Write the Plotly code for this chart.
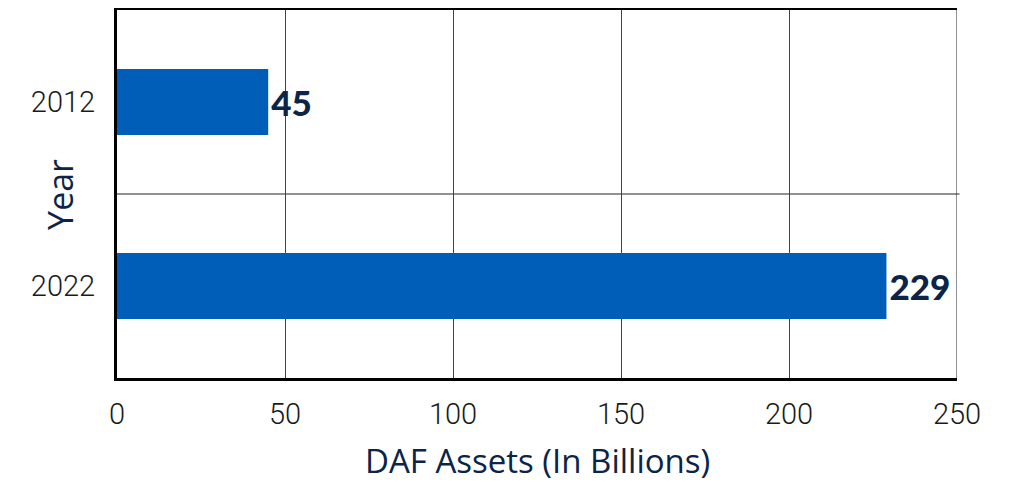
import plotly.graph_objects as go

# data
years = ['2012', '2022']
assets = [45, 229]
x_ticks = [0, 50, 100, 150, 200, 250]

BAR_BLUE = '#005EB8'
NAVY = '#0B2447'

fig = go.Figure()

fig.add_trace(go.Bar(y=years, x=assets, orientation='h',
                     marker=dict(color=BAR_BLUE, line=dict(width=0)),
                     width=0.36,
                     text=[str(v) for v in assets],
                     textposition='outside',
                     cliponaxis=False,
                     textfont=dict(family='Lato', size=35, color=NAVY, weight=900),
                     showlegend=False))

# thin line at the right edge and the line between the two years
fig.add_shape(type='line', xref='x', yref='paper', x0=250, x1=250, y0=0, y1=1,
              line=dict(color='#222222', width=1), layer='below')
fig.add_shape(type='line', xref='paper', yref='y', x0=0, x1=1.003, y0=0.5, y1=0.5,
              line=dict(color='#222222', width=1), layer='below')

# axis titles placed by hand
fig.add_annotation(text='DAF Assets (In Billions)', xref='paper', yref='paper',
                   x=0.5, y=-0.223, yanchor='middle', showarrow=False,
                   font=dict(family='Open Sans', size=33, color=NAVY))
fig.add_annotation(text='Year', xref='paper', yref='paper', textangle=-90,
                   x=-0.068, y=0.5, xanchor='center', yanchor='middle', showarrow=False,
                   font=dict(family='Open Sans', size=34, color=NAVY))

tick_font = dict(family='Roboto', size=29, color='#1a1a1a', weight=300)

fig.update_xaxes(range=[0, 250], tickvals=x_ticks, showgrid=True,
                 gridcolor='#444444', gridwidth=1, zeroline=False,
                 showline=True, linecolor='black', linewidth=3, mirror=True,
                 ticks='outside', ticklen=8, tickcolor='rgba(0,0,0,0)',
                 tickfont=tick_font)
fig.update_yaxes(type='category', categoryorder='array', categoryarray=years,
                 range=[1.5, -0.5], showgrid=False, zeroline=False,
                 showline=True, linecolor='black', linewidth=3,
                 ticks='outside', ticklen=13, tickcolor='rgba(0,0,0,0)',
                 tickfont=tick_font)

# page adds ~8px of body margin, so the figure is a bit smaller
fig.update_layout(width=1013, height=477,
                  margin=dict(l=109, r=64, t=2, b=107, autoexpand=False),
                  plot_bgcolor='white', paper_bgcolor='white',
                  bargap=0.6)

fig.write_html("out.html")
